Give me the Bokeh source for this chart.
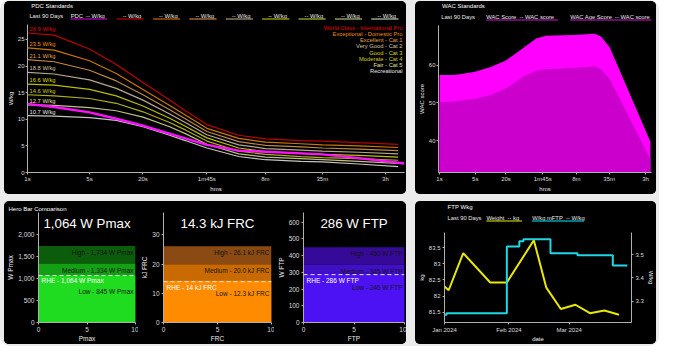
import pandas as pd
from bokeh.plotting import figure
from bokeh.models import (ColumnDataSource, Range1d, FixedTicker, NumeralTickFormatter,
                          LinearAxis, DatetimeTickFormatter, Span)
from bokeh.layouts import row, column
from bokeh.embed import file_html
from bokeh.resources import INLINE
from bokeh.core.properties import value

FONT = "Liberation Sans"

# ---------------- data ----------------
hms_ticks = [1, 5, 20, 105, 480, 2100, 10800]
hms_labels = ["1s", "5s", "20s", "1m45s", "8m", "35m", "3h"]

std_durations = [1, 2, 5, 10, 20, 40, 60, 105, 240, 480, 1200, 2100, 5400, 15000]
std_names = ["World Class - International Pro", "Exceptional - Domestic Pro", "Excellent - Cat 1",
             "Very Good - Cat 2", "Good - Cat 3", "Moderate - Cat 4", "Fair - Cat 5", "Recreational"]
std_labels = ["26.9 W/kg", "23.5 W/kg", "21.1 W/kg", "18.8 W/kg", "16.6 W/kg", "14.6 W/kg",
              "12.7 W/kg", "10.7 W/kg"]
std_world_class = [26.2, 25.8, 23.2, 20.3, 16.9, 13.6, 11.6, 9.0, 7.0, 6.3, 6.0, 5.9, 5.6, 5.3]
std_exceptional = [23.4, 23.0, 21.0, 18.6, 15.6, 12.6, 10.8, 8.3, 6.4, 5.7, 5.4, 5.2, 5.0, 4.7]
std_excellent = [21.2, 20.8, 19.2, 17.2, 14.6, 11.8, 10.1, 7.7, 5.8, 5.1, 4.8, 4.6, 4.4, 4.1]
std_very_good = [18.8, 18.5, 17.4, 15.8, 13.6, 11.0, 9.4, 7.1, 5.2, 4.5, 4.2, 4.0, 3.8, 3.5]
std_good = [16.6, 16.4, 15.6, 14.4, 12.5, 10.2, 8.7, 6.5, 4.6, 3.9, 3.6, 3.4, 3.2, 2.9]
std_moderate = [14.6, 14.4, 13.9, 13.0, 11.4, 9.4, 8.0, 5.9, 4.0, 3.4, 3.0, 2.8, 2.6, 2.3]
std_fair = [12.7, 12.6, 12.2, 11.6, 10.4, 8.6, 7.3, 5.3, 3.5, 2.9, 2.6, 2.4, 2.1, 1.7]
std_recreational = [10.7, 10.6, 10.3, 9.8, 8.6, 7.0, 6.0, 4.6, 3.0, 2.4, 2.1, 2.0, 1.6, 1.1]

pdc_durations = [1, 2, 5, 10, 20, 40, 60, 105, 240, 480, 1200, 2100, 5400, 17700]
pdc_wkg = [12.9, 12.3, 11.3, 10.1, 8.8, 7.3, 6.4, 5.2, 4.1, 3.9, 3.6, 3.4, 2.7, 1.7]

wac_durations = [1, 2, 5, 10, 20, 43, 78, 123, 410, 1100, 1450, 2150, 13500]
wac_score = [57.4, 57.4, 58.2, 59.5, 61.2, 64.4, 67.0, 67.7, 67.9, 68.2, 67.5, 64.7, 39.8]
wac_age_score = [50.2, 50.4, 51.1, 52.1, 53.8, 56.9, 58.5, 58.9, 59.2, 59.7, 58.9, 56.3, 35.2]

hero_metrics = ["Pmax", "FRC", "FTP"]
hero_units = ["W", "kJ", "W"]
hero_titles = ["1,064 W Pmax", "14.3 kJ FRC", "286 W FTP"]
hero_values = [1064, 14.3, 286]
hero_rhe = [1064, 14, 286]
hero_low = [845, 12.3, 246]
hero_medium = [1334, 20.0, 345]
hero_high = [1734, 26.1, 450]
hero_rhe_text = ["1,064", "14", "286"]
hero_low_text = ["845", "12.3", "246"]
hero_medium_text = ["1,334", "20.0", "345"]
hero_high_text = ["1,734", "26.1", "450"]
hero_yticks = [[0, 500, 1000, 1500, 2000], [0, 10, 20, 30], [0, 100, 200, 300, 400, 500, 600]]

weight_dates = ["2024-01-01", "2024-01-03", "2024-01-10", "2024-01-23", "2024-01-31", "2024-02-13",
                "2024-02-19", "2024-02-26", "2024-03-04", "2024-03-11", "2024-03-18", "2024-03-25"]
weight_kg = [82.30, 82.18, 83.33, 82.42, 82.42, 83.73, 82.26, 81.60, 81.73, 81.47, 81.55, 81.42]
wkg_dates = ["2024-01-01", "2024-01-02", "2024-01-31", "2024-02-06", "2024-02-08", "2024-02-21",
             "2024-03-05", "2024-03-22", "2024-03-29"]
wkg_mftp = [3.243, 3.25, 3.534, 3.557, 3.565, 3.506, 3.497, 3.453, 3.453]
month_ticks = ["2024-01-01", "2024-02-01", "2024-03-01"]

# ---------------- styles ----------------
std_colors = ["#e00000", "#f08c00", "#e0a050", "#d8c4a8", "#dede00", "#cccc20", "#e0e0a0", "#e6e6e0"]
std_under = ["#990000", "#a05000", "#a06a30", "#907860", "#909000", "#8a9a20", "#8a9a60", "#9aa090"]
PDC_COLOR = "#ff10ff"
BG = "black"
GRAY = "#ebebeb"


def base_fig(w, h, **kw):
    p = figure(width=w, height=h, toolbar_location=None, output_backend="svg",
               background_fill_color=BG, border_fill_color=BG, outline_line_color=None, **kw)
    p.grid.visible = False
    return p


def strip(w, h, color=GRAY):
    f = figure(width=w, height=h, toolbar_location=None, output_backend="svg", min_border=0,
               x_axis_location=None, y_axis_location=None, background_fill_color=color,
               border_fill_color=color, outline_line_color=None)
    f.grid.visible = False
    return f


def style_axes(p, size="6px", standoff=1, label_standoff=1):
    for ax in p.axis:
        ax.axis_line_color = "#b0b0b0"
        ax.major_tick_line_color = "#b0b0b0"
        ax.minor_tick_line_color = None
        ax.major_tick_in = 0
        ax.major_tick_out = 2
        ax.major_label_standoff = standoff
        ax.axis_label_standoff = label_standoff
        ax.major_label_text_color = "#dcdcdc"
        ax.major_label_text_font = FONT
        ax.major_label_text_font_size = size
        ax.axis_label_text_color = "#ececec"
        ax.axis_label_text_font = FONT
        ax.axis_label_text_font_size = size
        ax.axis_label_text_font_style = "normal"


def header(w, h, title, title_y, legend=None, legend_y=15, line_y=18):
    f = base_fig(w, h, x_range=Range1d(0, w), y_range=Range1d(h, 0), min_border=0,
                 x_axis_location=None, y_axis_location=None)
    f.text(x=[4], y=[title_y], text=[title], text_font=value(FONT), text_font_size="6px",
           text_color="white", text_baseline="middle", text_align="left")
    if legend:
        txt_x, txt, u0, u1, ucol = legend
        f.text(x=txt_x, y=[legend_y] * len(txt), text=txt, text_font=value(FONT),
               text_font_size="5.8px", text_color="#e8e8e8", text_baseline="middle", text_align="left")
        f.segment(x0=u0, y0=[line_y] * len(u0), x1=u1, y1=[line_y] * len(u0), line_color=ucol, line_width=1.6)
    return f


NB = "\u00a0"
BLACK_BG = {"background-color": "black"}
PANEL = {"background-color": "black", "border-radius": "5px", "overflow": "hidden"}

# ---------------- PDC panel ----------------
tl_w, tl_h = 402, 193
pdc_leg_names = ["PDC"] + [""] * 8
leg_text = ["Last 90 Days"] + [f"{n}{NB}{NB}--{NB}W/kg" for n in pdc_leg_names]
leg_x = [2, 46] + [95 + 3 + 38.8 * k for k in range(8)]
u0 = [46] + [95 + 38.8 * k for k in range(8)]
u1 = [85] + [95 + 38.8 * k + 29 for k in range(8)]
tl_head = header(tl_w, 22, "PDC Standards", 4,
                 (leg_x, leg_text, u0, u1, ["#990099"] + std_under), 14, 17.5)

p1 = base_fig(tl_w, tl_h - 22, x_axis_type="log", x_range=Range1d(1, 17700), y_range=Range1d(0, 27.8),
              min_border_left=19, min_border_right=2, min_border_top=1, min_border_bottom=19)
std_series = [std_world_class, std_exceptional, std_excellent, std_very_good, std_good,
              std_moderate, std_fair, std_recreational]
for vals, col in zip(std_series, std_colors):
    p1.line(std_durations, vals, line_color=col, line_width=1.2, line_alpha=0.85)
p1.line(pdc_durations, pdc_wkg, line_color=PDC_COLOR, line_width=2.4)
lab_src = ColumnDataSource(dict(x=[std_durations[0]] * 8, y=[s[0] for s in std_series],
                                text=std_labels, color=std_colors))
p1.text(x="x", y="y", text="text", text_color="color", source=lab_src, text_font=value(FONT),
        text_font_size="5.8px", text_baseline="bottom", text_align="left", x_offset=2, y_offset=-1)
leg_src = ColumnDataSource(dict(x=[p1.x_range.end] * 8, y=[p1.y_range.end] * 8, text=std_names,
                                color=std_colors, off=[0.5 + 6.15 * k for k in range(8)]))
p1.text(x="x", y="y", text="text", text_color="color", y_offset="off", source=leg_src,
        text_font=value(FONT), text_font_size="5.8px", text_baseline="top", text_align="right",
        x_offset=-2)
p1.xaxis.ticker = FixedTicker(ticks=hms_ticks, minor_ticks=[])
p1.xaxis.major_label_overrides = dict(zip(hms_ticks, hms_labels))
p1.yaxis.ticker = FixedTicker(ticks=[0, 5, 10, 15, 20, 25], minor_ticks=[])
p1.xaxis.axis_label = "hms"
p1.yaxis.axis_label = "W/kg"
style_axes(p1, standoff=1, label_standoff=1)
tl = column(tl_head, p1, styles=PANEL)

# ---------------- WAC panel ----------------
tr_w = 241
tr_leg = (
    [3, 54, 149],
    ["Last 90 Days", f"WAC Score{NB}{NB}--{NB}WAC score", f"WAC Age Score{NB}{NB}--{NB}WAC score"],
    [54, 149], [135, 245], ["#8a128a", "#8a128a"])
tr_head = header(tr_w, 22, "WAC Standards", 4, tr_leg, 15.5, 18.5)
p2 = base_fig(tr_w, tl_h - 22, x_axis_type="log", x_range=Range1d(0.955, 14150),
              y_range=Range1d(31.7, 70.4), min_border_left=22, min_border_right=5,
              min_border_top=2, min_border_bottom=20)
p2.varea(x=wac_durations, y1=[0] * len(wac_durations), y2=wac_score, fill_color="#ff00ff")
p2.varea(x=wac_durations, y1=[0] * len(wac_durations), y2=wac_age_score, fill_color="#cc00cc")
p2.xaxis.ticker = FixedTicker(ticks=hms_ticks, minor_ticks=[])
p2.xaxis.major_label_overrides = dict(zip(hms_ticks, hms_labels))
p2.yaxis.ticker = FixedTicker(ticks=[40, 50, 60], minor_ticks=[])
p2.xaxis.axis_label = "hms"
p2.yaxis.axis_label = "WAC score"
style_axes(p2)
tr = column(tr_head, p2, styles=PANEL)

# ---------------- Hero bars ----------------
hero_bright = ["#20dc20", "#ff8c00", "#4c12f4"]
hero_mid = ["#14a014", "#c86a00", "#4010c6"]
hero_dark = ["#0b5c0b", "#8a4a12", "#350a98"]
hero_top = [2490, 37.7, 657]
hero_fmt = ["0,0", "0", "0"]


def hero_fig(i, w, left, right):
    p = base_fig(w, 133, x_range=Range1d(0, 10), y_range=Range1d(0, hero_top[i]),
                 min_border_left=left, min_border_right=right, min_border_top=1, min_border_bottom=19)
    p.vbar(x=[5], width=10, bottom=[hero_medium[i]], top=[hero_high[i]], fill_color=hero_dark[i], line_color=None)
    p.vbar(x=[5], width=10, bottom=[hero_low[i]], top=[hero_medium[i]], fill_color=hero_mid[i], line_color=None)
    p.vbar(x=[5], width=10, bottom=[0], top=[hero_low[i]], fill_color=hero_bright[i], line_color=None)
    p.vbar(x=[5], width=10, bottom=[0], top=[hero_values[i]], fill_color=hero_bright[i], line_color=None)
    p.add_layout(Span(location=hero_rhe[i], dimension="width", line_color="#e6e6e6",
                      line_dash="4 3", line_width=1))
    m, u = hero_metrics[i], hero_units[i]
    band_src = ColumnDataSource(dict(
        x=[10, 10, 10], y=[hero_high[i], hero_medium[i], hero_low[i]],
        text=[f"High - {hero_high_text[i]} {u} {m}", f"Medium - {hero_medium_text[i]} {u} {m}",
              f"Low - {hero_low_text[i]} {u} {m}"]))
    p.text(x="x", y="y", text="text", source=band_src, text_font=value(FONT), text_font_size="6.5px",
           text_color="#141414", text_align="right", text_baseline="top", x_offset=-2, y_offset=3)
    p.text(x=[0], y=[hero_rhe[i]], text=[f"RHE - {hero_rhe_text[i]} {u} {m}"], text_font=value(FONT),
           text_font_size="6.5px", text_color="white", text_align="left", text_baseline="top",
           x_offset=3, y_offset=2)
    p.text(x=[5], y=[hero_top[i]], text=[hero_titles[i]], text_font=value(FONT), text_font_size="13.3px",
           text_color="white", text_align="center", text_baseline="middle", y_offset=11)
    p.xaxis.ticker = FixedTicker(ticks=[0, 5, 10], minor_ticks=[])
    p.yaxis.ticker = FixedTicker(ticks=hero_yticks[i], minor_ticks=[])
    p.yaxis.formatter = NumeralTickFormatter(format=hero_fmt[i])
    p.xaxis.axis_label = m
    p.yaxis.axis_label = f"{u} {m}"
    style_axes(p, size="6.5px", standoff=2, label_standoff=1)
    p.xaxis.axis_label_standoff = 0
    return p


h1 = hero_fig(0, 134, 30, 3)
h2 = hero_fig(1, 136, 21, 3)
h3 = hero_fig(2, 132, 21, 2)
bl_head = header(402, 10, "Hero Bar Comparison", 5.5)
bl = column(bl_head, row(h1, h2, h3, styles=BLACK_BG), styles=PANEL)

# ---------------- FTP W/kg panel ----------------
br_leg = ([4, 54, 113],
          ["Last 90 Days", f"Weight{NB}{NB}--{NB}kg", f"W/kg{NB}mFTP{NB}{NB}--{NB}W/kg"],
          [54, 113], [100, 180], ["#a0a000", "#00a0b0"])
br_head = header(tr_w, 22, "FTP Wkg", 5.5, br_leg, 16.5, 19.5)
wd = pd.to_datetime(weight_dates)
md = pd.to_datetime(wkg_dates)
p4 = base_fig(tr_w, 121, x_axis_type="datetime",
              x_range=Range1d(pd.Timestamp("2024-01-01"), pd.Timestamp("2024-03-31")),
              y_range=Range1d(81.18, 83.97), min_border_left=28, min_border_right=22,
              min_border_top=9, min_border_bottom=17)
p4.extra_y_ranges = {"wkg": Range1d(3.21, 3.594)}
p4.add_layout(LinearAxis(y_range_name="wkg", axis_label="W/kg",
                         ticker=FixedTicker(ticks=[3.3, 3.4, 3.5], minor_ticks=[])), "right")
p4.line(wd, weight_kg, line_color="#e8e800", line_width=2)
p4.step(md, wkg_mftp, mode="after", line_color="#1ed8e6", line_width=2, y_range_name="wkg")
p4.xaxis.ticker = FixedTicker(ticks=[pd.Timestamp(t).value / 1e6 for t in month_ticks], minor_ticks=[])
p4.xaxis.formatter = DatetimeTickFormatter(days="%b %Y", months="%b %Y", years="%b %Y")
p4.yaxis[0].ticker = FixedTicker(ticks=[81.5, 82, 82.5, 83, 83.5], minor_ticks=[])
p4.yaxis[0].formatter = NumeralTickFormatter(format="0.[0]")
p4.xaxis.axis_label = "date"
p4.yaxis[0].axis_label = "kg"
style_axes(p4, standoff=2, label_standoff=1)
p4.xaxis.axis_label_standoff = 0
br = column(br_head, p4, styles=PANEL)

# ---------------- layout (total 659 x 346) ----------------
grid = column(row(tl, strip(9, tl_h), tr, styles={"background-color": GRAY}),
              strip(652, 7),
              row(bl, strip(9, 143), br, styles={"background-color": GRAY}),
              styles={"background-color": GRAY})
page = row(strip(4, 346),
           column(strip(652, 1), grid, strip(652, 2), styles={"background-color": GRAY}),
           strip(3, 346),
           styles={"background-color": GRAY, "border-radius": "10px", "overflow": "hidden"})

open("out.html", "w").write(file_html(page, INLINE))
